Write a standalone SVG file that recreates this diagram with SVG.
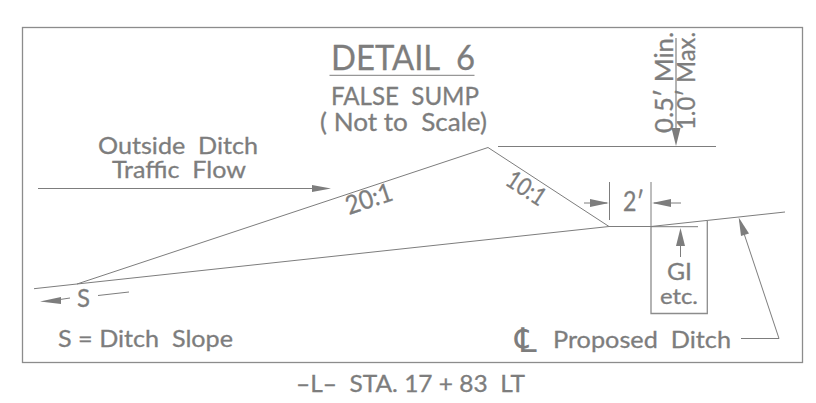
<svg xmlns="http://www.w3.org/2000/svg" width="816" height="403" viewBox="0 0 816 403">
<style>
text{font-family:"Lato","Liberation Sans",sans-serif;fill:#7d7d7d;stroke:#7d7d7d;stroke-width:.3;white-space:pre}
.l{fill:none;stroke:#7d7d7d;stroke-width:1}
.b{fill:none;stroke:#8c8c8c;stroke-width:1.3}
.h{fill:#7d7d7d;stroke:none}
</style>
<rect width="816" height="403" fill="#fff"/>
<g id="frame"><rect class="b" x="22.500" y="27.500" width="780" height="335"/></g>
<g id="connectors">
<path class="l" d="M34 288.700L77 284L488 147.500L609 226.500H651L785 212"/>
<path class="l" d="M77 284L609 226.500"/>
<path class="l" d="M498 146.500H716"/>
<path class="b" d="M651 226.500V313.500H707.300V221"/>
<path class="l" d="M651 226.700H698"/>
<path class="l" d="M38 188.500H314"/>
<path class="h" d="M312 185L331 188.500L312 192Z"/>
<path class="b" d="M676 38V130"/>
<path class="h" d="M676 146L671.500 128H680.500Z"/>
<path class="l" d="M609.500 182V220M651 182V226"/>
<path class="l" d="M584 203H607M654 203H681"/>
<path class="h" d="M609 203L590 199V207ZM652 203L671 199V207Z"/>
<path class="l" d="M680.500 257V240"/>
<path class="h" d="M680.500 228L676 246H685Z"/>
<path class="l" d="M741 338.500H779L739.500 220"/>
<path class="h" d="M738.700 217.500L749 233.500L741 236Z"/>
<path class="l" d="M58 299.800L70 298M98 295.500L129 292"/>
<path class="h" d="M40 301.500L61 297V304Z"/>
<path class="l" d="M329.500 75.300H474.500"/>
</g>
<g id="title"><text x="331" y="70" font-size="34" textLength="144" lengthAdjust="spacingAndGlyphs">DETAIL  6</text></g>
<g id="subtitle"><text x="331" y="105" font-size="25" textLength="148" lengthAdjust="spacingAndGlyphs">FALSE  SUMP</text>
<text x="320" y="131" font-size="25" textLength="167" lengthAdjust="spacingAndGlyphs">( Not to  Scale)</text></g>
<g id="flow-label"><text x="98" y="154" font-size="24" textLength="160" lengthAdjust="spacingAndGlyphs">Outside  Ditch</text>
<text x="112" y="178" font-size="24" textLength="134" lengthAdjust="spacingAndGlyphs">Traffic  Flow</text></g>
<g id="slope-20"><text x="0" y="0" font-size="26" textLength="48" lengthAdjust="spacingAndGlyphs" transform="translate(349 215) rotate(-18.500)">20:1</text></g>
<g id="slope-10"><text x="0" y="0" font-size="25" textLength="42" lengthAdjust="spacingAndGlyphs" transform="translate(504 184) rotate(33)">10:1</text></g>
<g id="dim-2"><text x="623" y="211" font-size="26" textLength="21" lengthAdjust="spacingAndGlyphs">2′</text></g>
<g id="min"><text x="0" y="0" font-size="25" transform="translate(673 133) rotate(-90)" textLength="101" lengthAdjust="spacingAndGlyphs">0.5′ Min.</text></g>
<g id="max"><text x="0" y="0" font-size="25" transform="translate(695 130) rotate(-90)" textLength="98" lengthAdjust="spacingAndGlyphs">1.0′ Max.</text></g>
<g id="gi"><text x="667" y="280" font-size="24" textLength="25" lengthAdjust="spacingAndGlyphs">GI</text>
<text x="660" y="304" font-size="22" textLength="38" lengthAdjust="spacingAndGlyphs">etc.</text></g>
<g id="cl-label"><text x="515" y="352" font-size="34" style="font-family:'DejaVu Sans',sans-serif;stroke:none">℄</text>
<text x="553" y="348" font-size="24" textLength="178" lengthAdjust="spacingAndGlyphs">Proposed  Ditch</text></g>
<g id="s-label"><text x="77" y="307" font-size="25" textLength="13" lengthAdjust="spacingAndGlyphs">S</text></g>
<g id="slope-note"><text x="58" y="347" font-size="24" textLength="175" lengthAdjust="spacingAndGlyphs">S = Ditch  Slope</text></g>
<g id="station"><text x="296" y="392" font-size="23" textLength="229" lengthAdjust="spacingAndGlyphs">–L–  STA. 17 + 83  LT</text></g>
</svg>
